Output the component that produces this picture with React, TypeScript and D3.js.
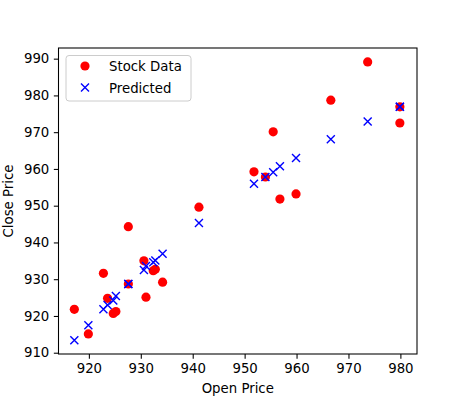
import React, { useEffect, useRef } from 'react';
import * as d3 from 'd3';

// values
const openPrice = [
  917.2, 919.9, 922.8, 923.6, 924.7, 925.2, 927.6, 927.6, 930.6, 931.0, 932.4, 932.8,
  934.2, 941.2, 951.8, 954.0, 955.5, 956.8, 959.9, 966.6, 973.7, 979.9, 979.9,
];
const closePrice = [
  921.8, 915.1, 931.6, 924.8, 920.7, 921.2, 944.3, 928.7, 935.0, 925.1, 932.3, 932.7,
  929.2, 949.6, 959.2, 957.8, 970.1, 951.8, 953.2, 978.7, 989.1, 976.9, 972.5,
];
const predicted = [
  913.4, 917.5, 921.8, 923.0, 924.2, 925.4, 928.7, 928.7, 932.5, 933.6, 934.6, 935.1,
  936.9, 945.3, 956.0, 957.8, 959.1, 960.7, 963.0, 968.1, 972.9, 976.9, 976.9,
];
const xTicks = [920, 930, 940, 950, 960, 970, 980];
const yTicks = [910, 920, 930, 940, 950, 960, 970, 980, 990];
const legendLabels = ['Stock Data', 'Predicted'];

const W = 463;
const H = 398;
const FONT = '"DejaVu Sans", sans-serif';

export default function App() {
  const ref = useRef<SVGSVGElement>(null);

  useEffect(() => {
    if (!ref.current) return;
    const svg = d3.select(ref.current);
    svg.selectAll('*').remove();

    const margin = { top: 48, right: 46, bottom: 44, left: 58.5 };
    const x = d3.scaleLinear().domain([914.15, 983.2]).range([margin.left, W - margin.right]);
    const y = d3.scaleLinear().domain([909.65, 992.9]).range([H - margin.bottom, margin.top]);

    const tickLen = 4.67;

    // x axis
    const gx = svg.append('g')
      .attr('transform', `translate(0,${H - margin.bottom})`)
      .call(d3.axisBottom(x).tickValues(xTicks).tickSize(tickLen).tickPadding(4.5).tickSizeOuter(0));
    gx.select('.domain').remove();
    gx.selectAll('text').attr('font-size', '13.3px').attr('font-family', FONT).attr('fill', '#000');
    gx.selectAll('line').attr('stroke', '#000').attr('stroke-width', 1.07);

    // y axis
    const gy = svg.append('g')
      .attr('transform', `translate(${margin.left},0)`)
      .call(d3.axisLeft(y).tickValues(yTicks).tickSize(tickLen).tickPadding(4.5).tickSizeOuter(0));
    gy.select('.domain').remove();
    gy.selectAll('text').attr('font-size', '13.3px').attr('font-family', FONT).attr('fill', '#000');
    gy.selectAll('line').attr('stroke', '#000').attr('stroke-width', 1.07);

    // stock data
    svg.append('g')
      .selectAll('circle')
      .data(openPrice)
      .enter()
      .append('circle')
      .attr('cx', d => x(d))
      .attr('cy', (d, i) => y(closePrice[i]))
      .attr('r', 4.6)
      .attr('fill', '#ff0000');

    // predicted
    const s = 4;
    svg.append('g')
      .selectAll('path')
      .data(openPrice)
      .enter()
      .append('path')
      .attr('d', (d, i) => {
        const cx = x(d);
        const cy = y(predicted[i]);
        return `M${cx - s},${cy - s}L${cx + s},${cy + s}M${cx - s},${cy + s}L${cx + s},${cy - s}`;
      })
      .attr('stroke', '#0000ff')
      .attr('stroke-width', 1.4)
      .attr('fill', 'none');

    // frame
    svg.append('rect')
      .attr('x', margin.left)
      .attr('y', margin.top)
      .attr('width', W - margin.right - margin.left)
      .attr('height', H - margin.bottom - margin.top)
      .attr('fill', 'none')
      .attr('stroke', '#000')
      .attr('stroke-width', 1.07);

    // axis labels
    svg.append('text')
      .attr('x', (margin.left + W - margin.right) / 2)
      .attr('y', 393)
      .attr('text-anchor', 'middle')
      .attr('font-size', '13.3px')
      .attr('font-family', FONT)
      .text('Open Price');

    svg.append('text')
      .attr('transform', `translate(12.5,${(margin.top + H - margin.bottom) / 2}) rotate(-90)`)
      .attr('text-anchor', 'middle')
      .attr('font-size', '13.3px')
      .attr('font-family', FONT)
      .text('Close Price');

    // legend
    const lg = svg.append('g');
    lg.append('rect')
      .attr('x', 66)
      .attr('y', 55.5)
      .attr('width', 125)
      .attr('height', 45.5)
      .attr('rx', 3)
      .attr('fill', '#fff')
      .attr('fill-opacity', 0.8)
      .attr('stroke', '#cccccc')
      .attr('stroke-width', 1);
    lg.append('circle').attr('cx', 85).attr('cy', 66).attr('r', 4.6).attr('fill', '#ff0000');
    lg.append('path')
      .attr('d', `M${85 - s},${87.5 - s}L${85 + s},${87.5 + s}M${85 - s},${87.5 + s}L${85 + s},${87.5 - s}`)
      .attr('stroke', '#0000ff')
      .attr('stroke-width', 1.4);
    legendLabels.forEach((t, i) => {
      lg.append('text')
        .attr('x', 109)
        .attr('y', 71 + i * 21.5)
        .attr('font-size', '13.3px')
        .attr('font-family', FONT)
        .text(t);
    });
  }, []);

  return (
    <svg
      ref={ref}
      width={W}
      height={H}
      style={{ position: 'absolute', left: 0, top: 0, background: '#fff' }}
    />
  );
}
